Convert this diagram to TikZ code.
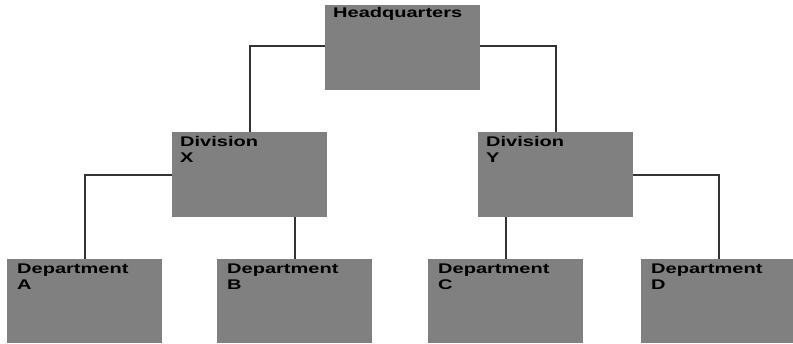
\documentclass[tikz,border=0pt]{standalone}
\usepackage{fontspec}
\setmainfont{Liberation Sans}
\definecolor{boxgray}{HTML}{808080}
\definecolor{linegray}{HTML}{333333}
\newcommand{\wide}[1]{\scalebox{1.43}[1]{#1}}
\begin{document}
\begin{tikzpicture}[x=1pt,y=-1pt,
  unit/.style={fill=boxgray,draw=none,rectangle,minimum width=155pt,minimum height=85pt,anchor=north west,inner sep=0pt},
  lbl/.style={anchor=north west,inner sep=0pt,align=left,font=\bfseries\fontsize{14}{16}\selectfont,text=black},
  conn/.style={draw=linegray,line width=2.2pt}]
\useasboundingbox (0,0) rectangle (793,343);
\node[unit,label={[lbl,xshift=8pt,yshift=-2pt]north west:\wide{Headquarters}}] (hq) at (325,5) {};
\node[unit,label={[lbl,xshift=8pt,yshift=-4pt]north west:\wide{Division}\\\wide{X}}] (dx) at (172,132) {};
\node[unit,label={[lbl,xshift=8pt,yshift=-4pt]north west:\wide{Division}\\\wide{Y}}] (dy) at (478,132) {};
\node[unit,minimum height=84pt,label={[lbl,xshift=10pt,yshift=-5pt]north west:\wide{Department}\\\wide{A}}] (da) at (7,259) {};
\node[unit,minimum height=84pt,label={[lbl,xshift=10pt,yshift=-5pt]north west:\wide{Department}\\\wide{B}}] (db) at (217,259) {};
\node[unit,minimum height=84pt,label={[lbl,xshift=10pt,yshift=-5pt]north west:\wide{Department}\\\wide{C}}] (dc) at (428,259) {};
\node[unit,minimum height=84pt,label={[lbl,xshift=10pt,yshift=-5pt]north west:\wide{Department}\\\wide{D}}] (dd) at (641,259) {};
\draw[conn] ([yshift=2pt]hq.west) -| (dx.north);
\draw[conn] ([yshift=2pt]hq.east) -| (dy.north);
\draw[conn] (dx.west) -| (da.north);
\draw[conn] (db.north |- dx.south) -- (db.north);
\draw[conn] (dc.north |- dy.south) -- (dc.north);
\draw[conn] (dy.east) -| (dd.north);
\end{tikzpicture}
\end{document}
